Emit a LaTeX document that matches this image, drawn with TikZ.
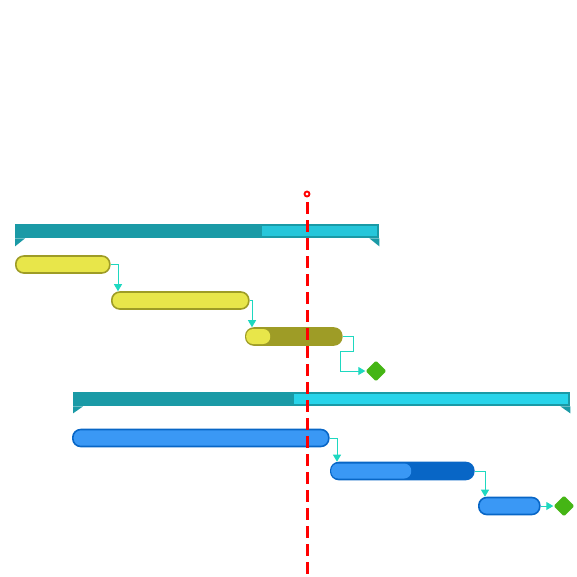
\documentclass[tikz,border=0pt]{standalone}
\usepackage{tikz}
\usetikzlibrary{arrows.meta, positioning, shapes.geometric, calc}

\definecolor{sumdark}{HTML}{1A9AA6}
\definecolor{sumliteA}{HTML}{26C6DA}
\definecolor{sumliteB}{HTML}{28D4EA}
\definecolor{yelfill}{HTML}{E8E64A}
\definecolor{yeldark}{HTML}{9E9C26}
\definecolor{bluefill}{HTML}{3A98F5}
\definecolor{bluedark}{HTML}{0866C6}
\definecolor{milegreen}{HTML}{45B515}
\definecolor{linkcol}{HTML}{1ED8C0}

\begin{document}
\begin{tikzpicture}[x=1pt, y=-1pt,
  summary/.style={fill=sumdark, inner sep=0, minimum height=14pt, anchor=north west},
  taskY/.style={draw=yeldark, fill=yelfill, line width=1.6pt, rounded corners=8pt, minimum height=17pt, inner sep=0, anchor=west},
  taskB/.style={draw=bluedark, fill=bluefill, line width=1.6pt, rounded corners=8pt, minimum height=17pt, inner sep=0, anchor=west},
  done/.style={rounded corners=7pt, minimum height=15pt, inner sep=0, anchor=west},
  mile/.style={diamond, fill=milegreen, rounded corners=1.5pt, minimum size=21pt, inner sep=0},
  link/.style={draw=linkcol, line width=0.9pt, -{Triangle[width=8pt,length=7pt]}},
  today/.style={draw=red, line width=3pt, dash pattern=on 12pt off 6pt},
]
\useasboundingbox (0,0) rectangle (577,576);

% Summary 1
\node[summary, minimum width=364pt] (s1) at (15,224) {};
\fill[sumliteA] (262,226) rectangle ([xshift=-2pt,yshift=2pt]s1.south east);
\fill[sumdark] (s1.south west) -- ++(10,0) -- ++(-10,8) -- cycle;
\fill[sumdark] (s1.south east) -- ++(-10,0) -- ++(10,8) -- cycle;

% Yellow tasks
\node[taskY, minimum width=94pt] (t1) at (15,264.5) {};
\node[taskY, minimum width=137pt] (t2) at (111,300.5) {};
\node[taskY, fill=yeldark, minimum width=96pt] (t3) at (245,336.5) {};
\node[done, fill=yelfill, minimum width=24pt] (t3p) at (246,336.5) {};
\node[mile] (m1) at (376,371) {};

% Summary 2
\node[summary, minimum width=497pt] (s2) at (73,392) {};
\fill[sumliteB] (294,394) rectangle ([xshift=-2pt,yshift=2pt]s2.south east);
\fill[sumdark] (s2.south west) -- ++(10,0) -- ++(-10,7) -- cycle;
\fill[sumdark] (s2.south east) -- ++(-10,0) -- ++(10,7) -- cycle;

% Blue tasks
\node[taskB, minimum width=256pt] (t4) at (72,438) {};
\node[taskB, fill=bluedark, minimum width=143pt] (t5) at (330,471) {};
\node[done, fill=bluefill, minimum width=80pt] (t5p) at (331,471) {};
\node[taskB, minimum width=61pt] (t6) at (478,506) {};
\node[mile] (m2) at (564,506) {};

% Links
\draw[link] (t1.east) -| ([xshift=7pt]t2.north west);
\draw[link] (t2.east) -| ([xshift=7pt]t3.north west);
\draw[link] (t3.east) -- ++(11,0) -- ++(0,15) -- ++(-13,0) |- (m1.west);
\draw[link] (t4.east) -| ([xshift=7pt]t5.north west);
\draw[link] (t5.east) -| ([xshift=7pt]t6.north west);
\draw[link] (t6.east) -- (m2.west);

% Today line
\node[circle, draw=red, fill=white, line width=1.8pt, minimum size=5pt, inner sep=0] (now) at (307,194) {};
\coordinate (nowend) at (307,576);
\draw[today] ([yshift=-5pt]now.south) -- (nowend);
\end{tikzpicture}
\end{document}
